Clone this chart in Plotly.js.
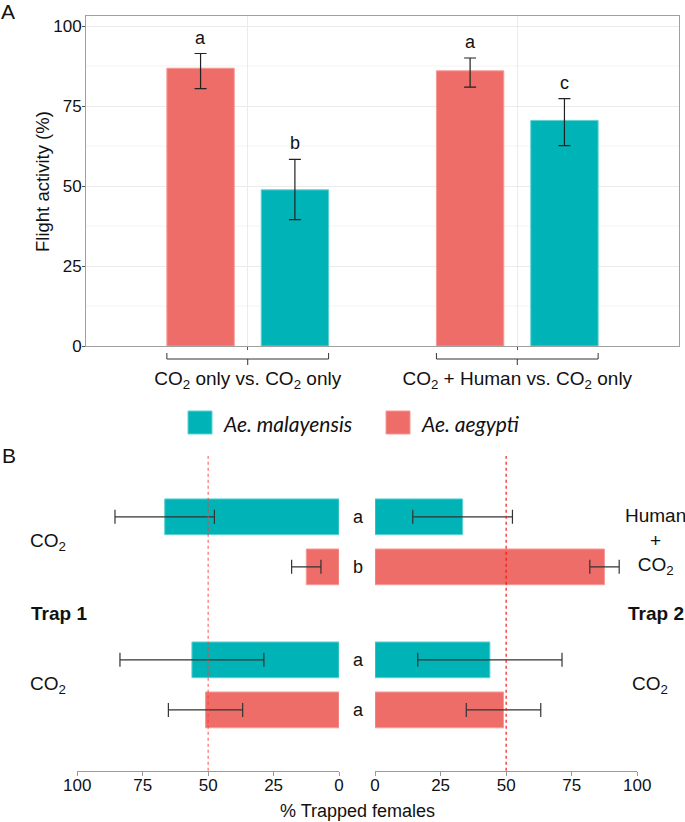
<!DOCTYPE html>
<html>
<head>
<meta charset="utf-8">
<script src="https://cdn.plot.ly/plotly-3.0.1.min.js"></script>
<style>html,body{margin:0;padding:0;background:#fff;}#chart{width:685px;height:822px;}</style>
</head>
<body>
<div id="chart"></div>
<script>
// ---------- Data: panel A (flight activity) ----------
const catA = ['CO<sub>2</sub> only vs. CO<sub>2</sub> only', 'CO<sub>2</sub> + Human vs. CO<sub>2</sub> only'];
const aegyptiA = [86.8, 86.0];
const aegyptiAUp = [4.6, 4.0];
const aegyptiADown = [6.4, 5.1];
const malayA = [48.8, 70.5];
const malayAUp = [9.5, 6.8];
const malayADown = [9.3, 7.9];
const lettersAegyptiA = ['a', 'a'];
const lettersMalayA = ['b', 'c'];
const ticksA = [0, 25, 50, 75, 100];

// ---------- Data: panel B (trap choice), rows bottom -> top ----------
const rowsB = ['CO2 vs CO2', 'Human + CO2 vs CO2'];
const malayTrap1 = [56.2, 66.6];
const malayTrap2 = [43.8, 33.4];
const malayErr = [27.5, 19.0];
const aegyptiTrap1 = [51.0, 12.5];
const aegyptiTrap2 = [49.0, 87.5];
const aegyptiErr = [14.2, 5.6];
const lettersMalayB = ['a', 'a'];
const lettersAegyptiB = ['a', 'b'];
const trap1Labels = ['CO<sub>2</sub>', 'CO<sub>2</sub>'];
const trap2Labels = ['CO<sub>2</sub>', 'Human<br>+<br>CO<sub>2</sub>'];
const ticksB = [0, 25, 50, 75, 100];
const chanceLevel = 50;

// ---------- Style ----------
const RED = '#EE6D69', RED_EDGE = '#F59A96';
const TEAL = '#00B3B7', TEAL_EDGE = '#5FD0D2';
const FONT = 'Liberation Sans, Arial, Helvetica, sans-serif';
const OFF = 0.175; // dodge offset of each bar in a group (category units)
const W = 685, H = 822;
const px = v => v / W, py = v => 1 - v / H;
const f = (size, extra) => Object.assign({family: FONT, size: size, color: '#111'}, extra || {});

const errA = (up, down) => ({type: 'data', symmetric: false, array: up, arrayminus: down,
  color: '#222', thickness: 1.2, width: 6});
const errB = e => ({type: 'data', array: e, color: '#333', thickness: 1.2, width: 7});

const traces = [
  {type: 'bar', name: 'Ae. aegypti', x: catA, y: aegyptiA, error_y: errA(aegyptiAUp, aegyptiADown),
   marker: {color: RED, line: {color: RED_EDGE, width: 1}}, xaxis: 'x', yaxis: 'y', showlegend: false},
  {type: 'bar', name: 'Ae. malayensis', x: catA, y: malayA, error_y: errA(malayAUp, malayADown),
   marker: {color: TEAL, line: {color: TEAL_EDGE, width: 1}}, xaxis: 'x', yaxis: 'y', showlegend: false},
  {type: 'bar', orientation: 'h', name: 'Ae. aegypti', y: rowsB, x: aegyptiTrap1, error_x: errB(aegyptiErr),
   marker: {color: RED, line: {color: RED_EDGE, width: 1}}, xaxis: 'x2', yaxis: 'y2', showlegend: false},
  {type: 'bar', orientation: 'h', name: 'Ae. malayensis', y: rowsB, x: malayTrap1, error_x: errB(malayErr),
   marker: {color: TEAL, line: {color: TEAL_EDGE, width: 1}}, xaxis: 'x2', yaxis: 'y2', showlegend: false},
  {type: 'bar', orientation: 'h', name: 'Ae. aegypti', y: rowsB, x: aegyptiTrap2, error_x: errB(aegyptiErr),
   marker: {color: RED, line: {color: RED_EDGE, width: 1}}, xaxis: 'x3', yaxis: 'y2', showlegend: false},
  {type: 'bar', orientation: 'h', name: 'Ae. malayensis', y: rowsB, x: malayTrap2, error_x: errB(malayErr),
   marker: {color: TEAL, line: {color: TEAL_EDGE, width: 1}}, xaxis: 'x3', yaxis: 'y2', showlegend: false}
];

const annotations = [];
const shapes = [];
const txt = (o) => Object.assign({showarrow: false, xanchor: 'center', yanchor: 'middle', font: f(17)}, o);

// panel letters
annotations.push(txt({xref: 'paper', yref: 'paper', x: px(8), y: py(12), text: 'A', font: f(21)}));
annotations.push(txt({xref: 'paper', yref: 'paper', x: px(8.5), y: py(455), text: 'B', font: f(21)}));

// y title of panel A
annotations.push(txt({xref: 'paper', yref: 'paper', x: px(42), y: py(182), textangle: -90, text: 'Flight activity (%)', font: f(18.5)}));

// panel A significance letters and brackets
catA.forEach((c, i) => {
  annotations.push(txt({xref: 'x', yref: 'y', x: i - OFF, y: aegyptiA[i] + aegyptiAUp[i], yshift: 16, text: lettersAegyptiA[i], font: f(18)}));
  annotations.push(txt({xref: 'x', yref: 'y', x: i + OFF, y: malayA[i] + malayAUp[i], yshift: 16, text: lettersMalayA[i], font: f(18)}));
  const l = i - OFF - 0.125, r = i + OFF + 0.125;
  const ln = {color: '#333', width: 1};
  shapes.push({type: 'line', xref: 'x', yref: 'y domain', x0: l, x1: r, y0: -0.0394, y1: -0.0394, line: ln});
  shapes.push({type: 'line', xref: 'x', yref: 'y domain', x0: l, x1: l, y0: -0.0394, y1: -0.0212, line: ln});
  shapes.push({type: 'line', xref: 'x', yref: 'y domain', x0: r, x1: r, y0: -0.0394, y1: -0.0212, line: ln});
  shapes.push({type: 'line', xref: 'x', yref: 'y domain', x0: i, x1: i, y0: -0.0394, y1: -0.0576, line: ln});
});

// legend (drawn)
const legendItems = [{name: 'Ae. malayensis', color: TEAL, edge: TEAL_EDGE, x: 188}, {name: 'Ae. aegypti', color: RED, edge: RED_EDGE, x: 386}];
legendItems.forEach(it => {
  shapes.push({type: 'rect', xref: 'paper', yref: 'paper', x0: px(it.x), x1: px(it.x + 24), y0: py(434), y1: py(411),
    fillcolor: it.color, line: {color: it.edge, width: 1}});
  annotations.push({xref: 'paper', yref: 'paper', x: px(it.x + 33), y: py(423), xanchor: 'left', yanchor: 'middle', showarrow: false,
    text: '<i>' + it.name + '</i>', font: {family: 'Lato, Open Sans, sans-serif', size: 21, color: '#111'}});
});

// panel B letters between the two subplots, and side labels
rowsB.forEach((r, i) => {
  annotations.push(txt({xref: 'x3', yref: 'y2', x: 0, xshift: -17, y: i + OFF, text: lettersMalayB[i], font: f(18)}));
  annotations.push(txt({xref: 'x3', yref: 'y2', x: 0, xshift: -17, y: i - OFF, text: lettersAegyptiB[i], font: f(18)}));
  annotations.push(txt({xref: 'paper', yref: 'y2', x: px(48), y: i, text: trap1Labels[i], font: f(19)}));
  annotations.push(txt({xref: 'paper', yref: 'y2', x: i === 1 ? px(655) : px(650), y: i, text: trap2Labels[i], font: f(19)}));
});
annotations.push(txt({xref: 'paper', yref: 'y2', x: px(59), y: 0.5, text: '<b>Trap 1</b>', font: f(19)}));
annotations.push(txt({xref: 'paper', yref: 'y2', x: px(656), y: 0.5, text: '<b>Trap 2</b>', font: f(19)}));
annotations.push(txt({xref: 'paper', yref: 'paper', x: px(357), y: py(811), text: '% Trapped females', font: f(18)}));

// 50% reference lines
shapes.push({type: 'line', xref: 'x2', yref: 'y2 domain', x0: chanceLevel, x1: chanceLevel, y0: 0, y1: 1, layer: 'above',
  line: {color: 'rgba(250,60,60,0.7)', dash: 'dot', width: 1.3}});
shapes.push({type: 'line', xref: 'x3', yref: 'y2 domain', x0: chanceLevel, x1: chanceLevel, y0: 0, y1: 1, layer: 'above',
  line: {color: 'rgba(240,20,20,0.9)', dash: 'dot', width: 1.3}});

const layout = {
  width: W, height: H,
  margin: {l: 0, r: 0, t: 0, b: 0},
  paper_bgcolor: '#fff', plot_bgcolor: 'rgba(0,0,0,0)',
  barmode: 'group', bargap: 0.3, bargroupgap: 0.286,
  showlegend: false,
  font: {family: FONT, size: 17, color: '#111'},
  xaxis: {domain: [px(86), px(679)], anchor: 'y', type: 'category', range: [-0.6, 1.6],
    showline: true, mirror: true, linecolor: '#a0a0a0', linewidth: 1,
    showgrid: true, gridcolor: '#ebebeb', ticks: 'outside', ticklen: 3, tickcolor: '#555',
    tickfont: f(19), ticklabelstandoff: 12, fixedrange: true},
  yaxis: {domain: [py(346), py(16)], anchor: 'x', range: [0, 103.125], tickvals: ticksA,
    showline: true, mirror: true, linecolor: '#a0a0a0', linewidth: 1, zeroline: false,
    showgrid: true, gridcolor: '#ebebeb', ticks: 'outside', ticklen: 3, tickcolor: '#555',
    tickfont: f(17), ticklabelstandoff: -3, fixedrange: true},
  yaxis2: {domain: [py(770.7), py(456)], anchor: 'x2', type: 'category', categoryorder: 'array', categoryarray: rowsB,
    range: [-0.6, 1.6], showticklabels: false, showgrid: false, zeroline: false, showline: false, ticks: ''},
  xaxis2: {domain: [px(77.3), px(339)], anchor: 'y2', range: [100, 0], tickvals: ticksB,
    showline: true, linecolor: '#9a9a9a', linewidth: 1, showgrid: false, zeroline: false,
    ticks: 'outside', ticklen: 4, tickcolor: '#9a9a9a', tickfont: f(17), ticklabelstandoff: -5},
  xaxis3: {domain: [px(375), px(637.3)], anchor: 'y2', range: [0, 100], tickvals: ticksB,
    showline: true, linecolor: '#9a9a9a', linewidth: 1, showgrid: false, zeroline: false,
    ticks: 'outside', ticklen: 4, tickcolor: '#9a9a9a', tickfont: f(17), ticklabelstandoff: -5},
  annotations: annotations,
  shapes: shapes
};

// minor grid lines of panel A (between major ticks)
for (let k = 0; k < ticksA.length - 1; k++) {
  const m = (ticksA[k] + ticksA[k + 1]) / 2;
  shapes.push({type: 'line', xref: 'x domain', yref: 'y', x0: 0, x1: 1, y0: m, y1: m, layer: 'below',
    line: {color: '#f4f4f4', width: 1}});
}

Plotly.newPlot('chart', traces, layout, {displayModeBar: false, staticPlot: true});
</script>
</body>
</html>
